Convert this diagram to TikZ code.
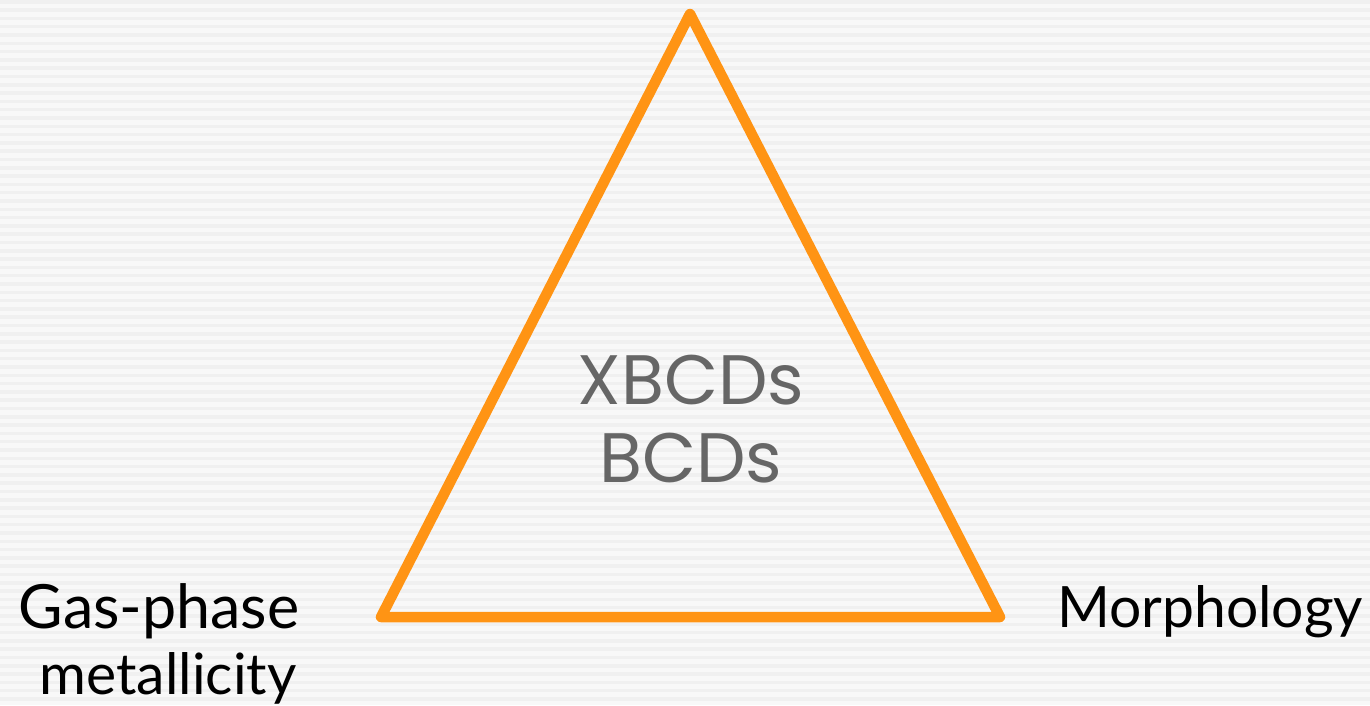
\documentclass[tikz,border=0pt]{standalone}
\usepackage{fontspec}
\setmainfont{Lato}
\newfontfamily\geofont{Poppins}
\definecolor{bgA}{HTML}{F8F8F8}
\definecolor{bgB}{HTML}{F0F0F0}
\definecolor{tri}{HTML}{FF9414}
\definecolor{midtext}{HTML}{666666}
\tikzset{
  triline/.style={draw=tri, line width=10.5pt, line join=round, line cap=round},
  centertext/.style={font=\geofont\fontsize{70}{84}\selectfont, text=midtext, inner sep=0pt, anchor=center},
  cornertext/.style={font=\fontsize{57}{68}\selectfont, text=black, inner sep=0pt, anchor=center, align=center}
}
\begin{document}
\begin{tikzpicture}[x=1pt, y=-1pt]
\useasboundingbox (0,0) rectangle (1370,705);
\fill[bgA] (0,0) rectangle (1370,705);
\foreach \i in {0,...,85} {
  \fill[bgB] (0,\i*8.3) rectangle (1370,\i*8.3+3.5);
}
\coordinate (apex) at (690,14);
\coordinate (bl) at (381,617);
\coordinate (br) at (1000,617);
\draw[triline] (apex) -- (bl) -- (br) -- cycle;
\node[centertext] (x) at (691,380) {XBCDs};
\node[centertext] (b) at (691,458) {BCDs};
\node[cornertext, font=\fontsize{61}{68}\selectfont] (gas) at (159,611) {Gas-phase};
\node[cornertext] (met) at (168,678) {metallicity};
\node[cornertext] (mor) at (1210,612) {Morphology};
\end{tikzpicture}
\end{document}
